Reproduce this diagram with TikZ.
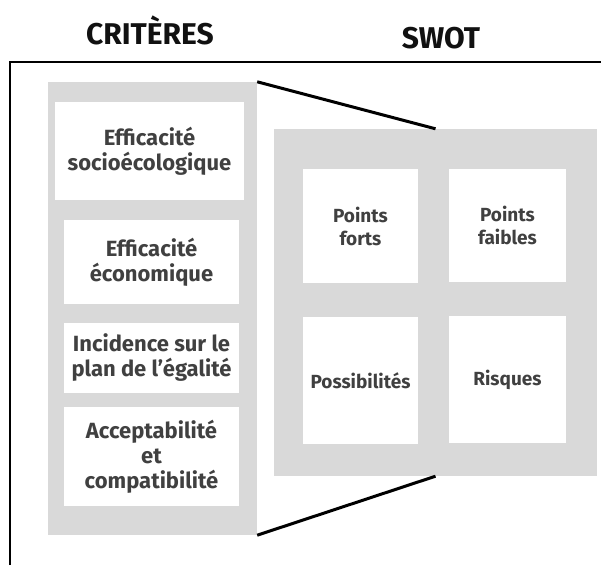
\documentclass[tikz,border=0pt]{standalone}
\usepackage{fontspec}
\setmainfont{Fira Sans}
\usepackage{tikz}
\usetikzlibrary{positioning,calc}
\definecolor{panelgray}{RGB}{217,217,217}
\definecolor{textgray}{RGB}{64,64,64}
\definecolor{titleblack}{RGB}{17,17,17}

\begin{document}
\begin{tikzpicture}[x=1pt,y=1pt,
  panel/.style={fill=panelgray,inner sep=0pt},
  box/.style={fill=white,inner sep=0pt,align=center,text=textgray,font=\bfseries\fontsize{22}{25}\selectfont},
  swotbox/.style={box,font=\bfseries\fontsize{19}{23}\selectfont},
  title/.style={text=titleblack,font=\bfseries\fontsize{30}{32}\selectfont},
  link/.style={line width=3pt,black}
]
\useasboundingbox (0,0) rectangle (601,565);
% open frame
\draw[line width=2pt] (10,0) -- (10,503) -- (601,503);
\node[title] (crit) at (150,535) {CRITÈRES};
\node[title] (swot) at (441,527) {SWOT};
% criteria column
\node[panel,minimum width=209pt,minimum height=453pt] (lpanel) at (152.5,256.5) {};
\node[box,minimum width=189pt,minimum height=98pt] (socio) at (149.5,414) {Efficacité\\socioécologique};
\node[box,minimum width=175pt,minimum height=84pt] (eco) at (151.5,303) {Efficacité\\économique};
\node[box,minimum width=175pt,minimum height=70pt] (egal) at (151.5,207) {Incidence sur le\\plan de l’égalité};
\node[box,minimum width=175pt,minimum height=99pt] (accept) at (151.5,108.5) {Acceptabilité\\et\\compatibilité};
% swot grid
\node[panel,minimum width=323pt,minimum height=347pt] (rpanel) at (435.5,262.5) {};
\node[swotbox,minimum width=115pt,minimum height=114pt] (forts) at (360.5,339) {Points\\forts};
\node[swotbox,minimum width=117pt,minimum height=113pt] (faibles) at (507.5,339.5) {Points\\faibles};
\node[swotbox,minimum width=115pt,minimum height=127pt] (poss) at (360.5,184.5) {Possibilités};
\node[swotbox,minimum width=117pt,minimum height=127pt] (risq) at (507.5,185.5) {Risques};
\draw[link] (lpanel.north east) -- (rpanel.north);
\draw[link] (lpanel.south east) -- (rpanel.south);
\end{tikzpicture}
\end{document}
